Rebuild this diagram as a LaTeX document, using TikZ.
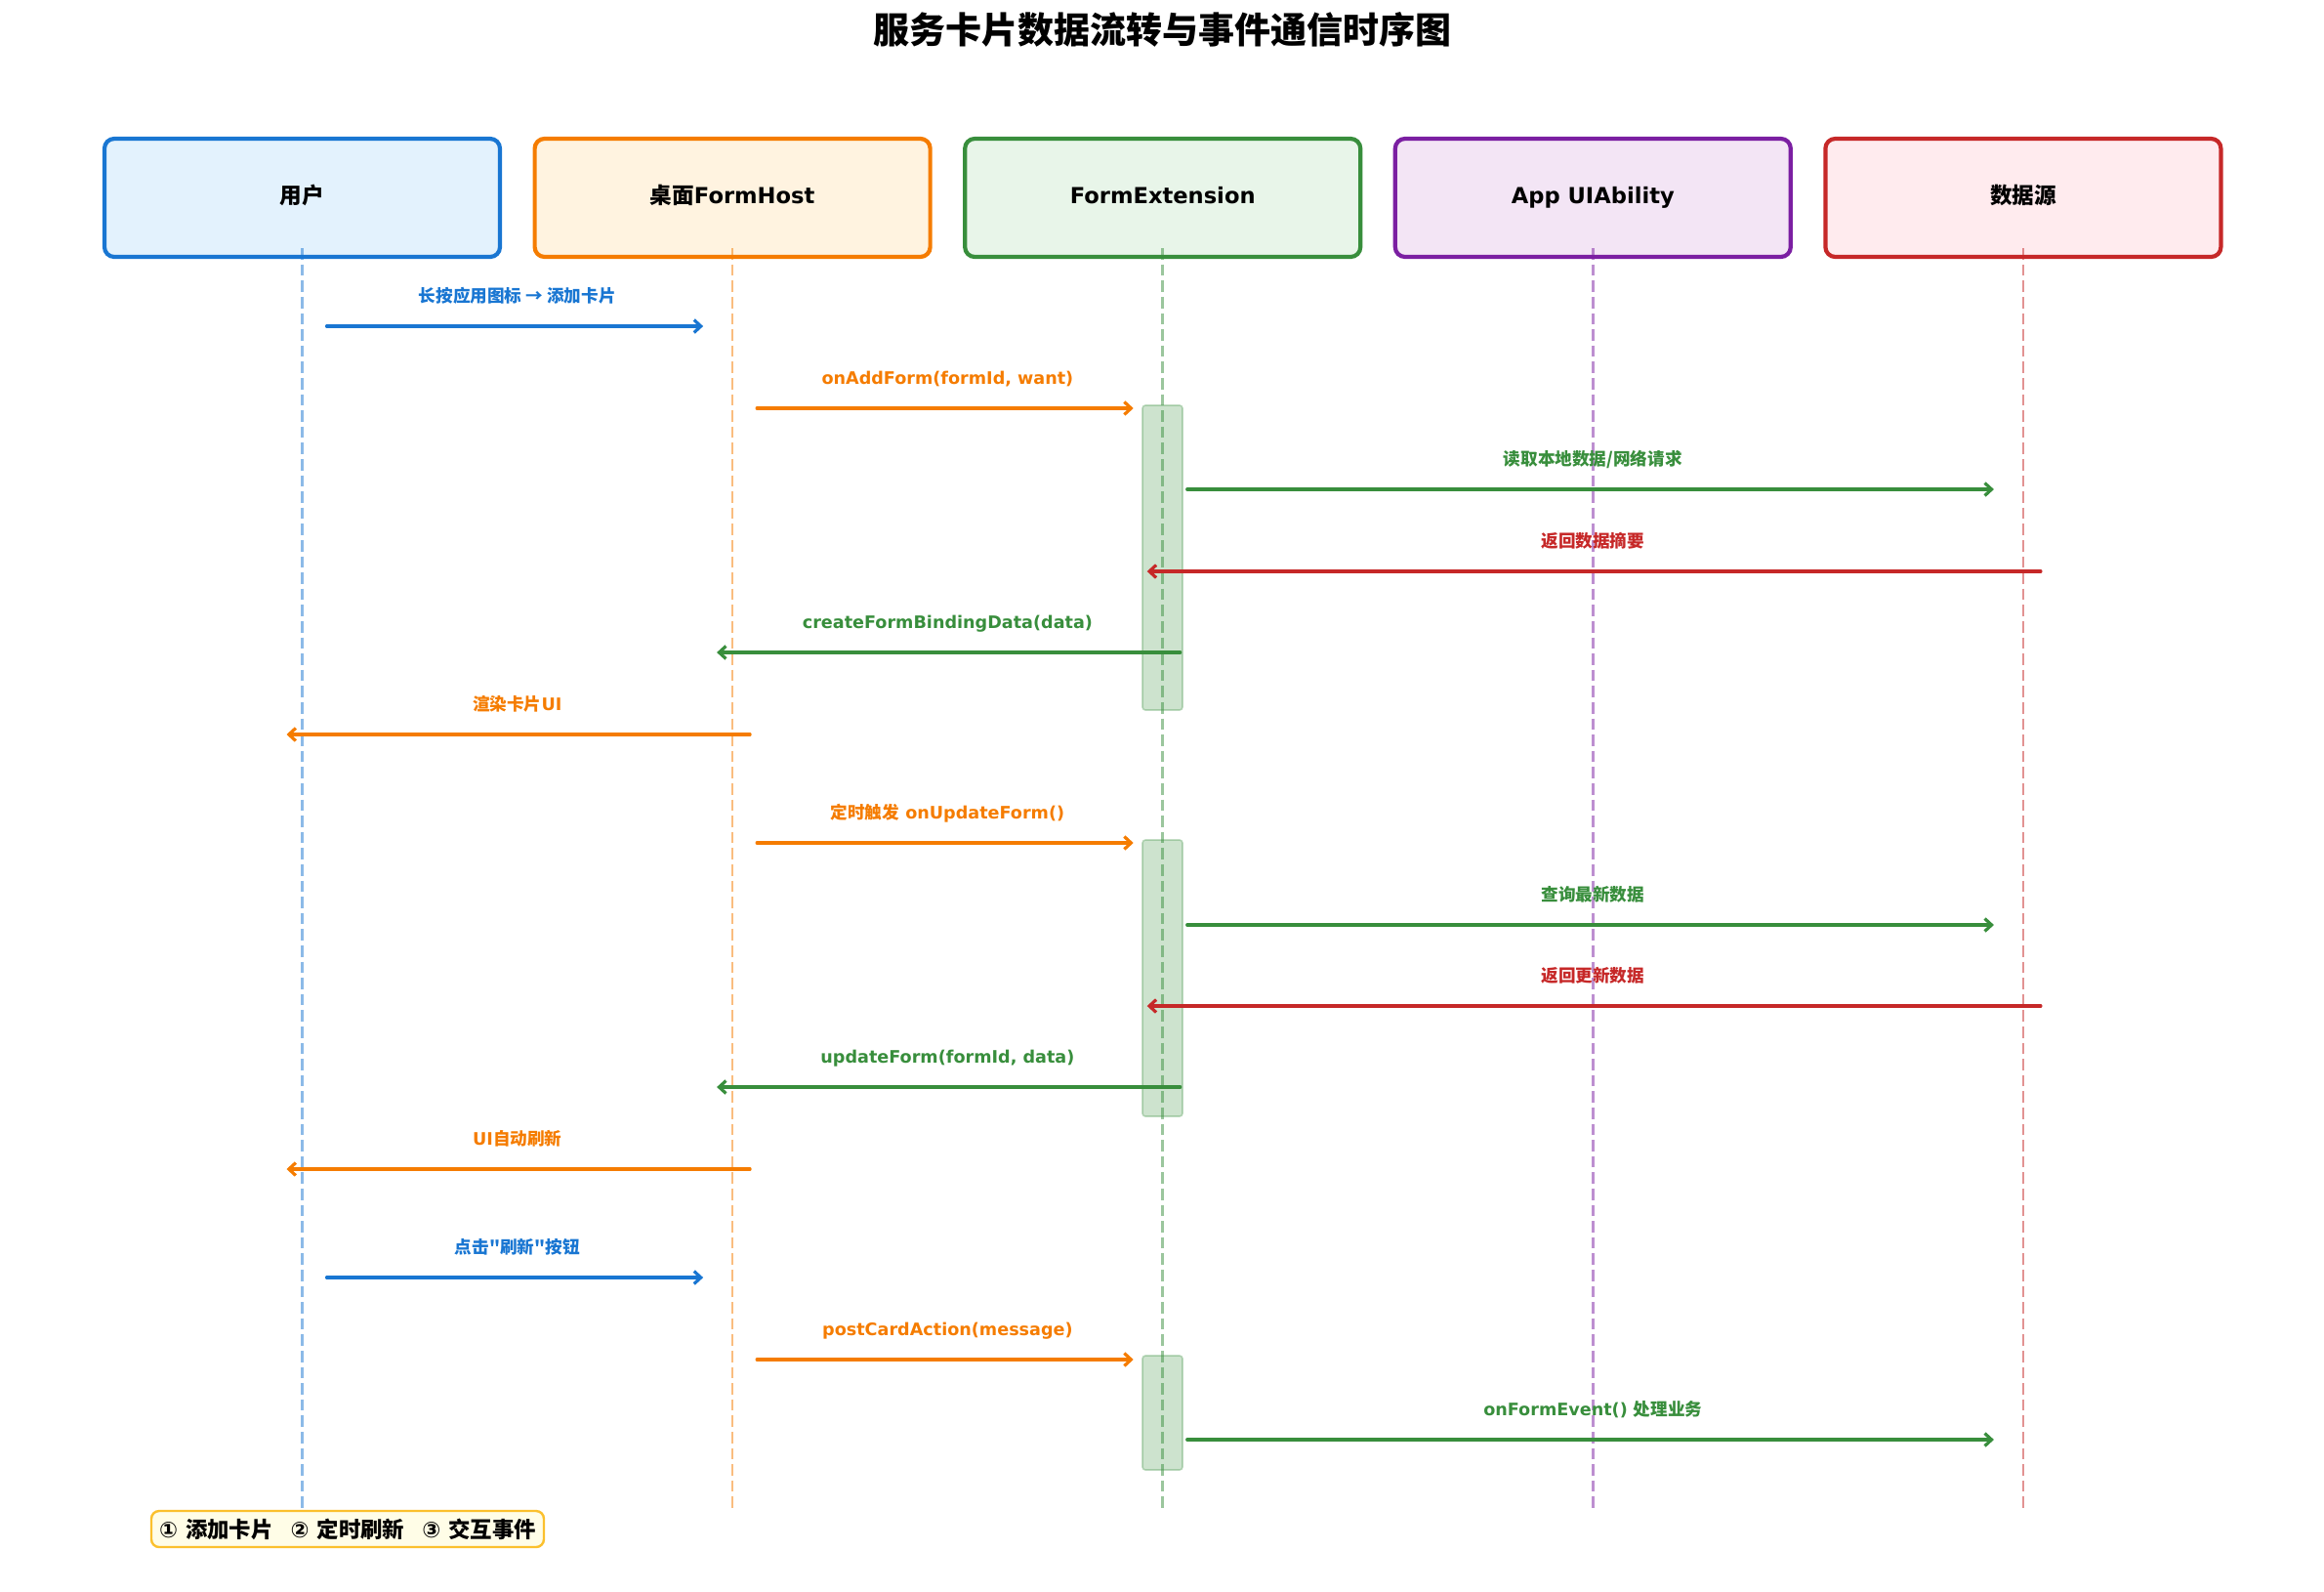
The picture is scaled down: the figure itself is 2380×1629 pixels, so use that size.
\documentclass[tikz,border=0pt]{standalone}
\usepackage{fontspec}
\setmainfont{DejaVu Sans}
\newfontfamily\cjk{Noto Sans CJK SC}[Ligatures=ResetAll]
\usetikzlibrary{arrows.meta,calc}
\definecolor{cblue}{HTML}{1976D2}\definecolor{cblueL}{HTML}{E3F2FD}
\definecolor{corange}{HTML}{F57C00}\definecolor{corangeL}{HTML}{FFF3E0}
\definecolor{cgreen}{HTML}{388E3C}\definecolor{cgreenL}{HTML}{E8F5E9}
\definecolor{cpurple}{HTML}{7B1FA2}\definecolor{cpurpleL}{HTML}{F3E5F5}
\definecolor{cred}{HTML}{C62828}\definecolor{credL}{HTML}{FFEBEE}
\definecolor{cyellow}{HTML}{FBC02D}\definecolor{cyellowL}{HTML}{FFFDE7}
\newcommand\zh[1]{{\cjk\bfseries #1}}
\newcommand\zhb[1]{{\cjk\bfseries #1}}
\tikzset{
  actor/.style={draw=#1, fill=#1L, line width=2.1pt, rounded corners=5pt,
    minimum width=202.5pt, minimum height=60.5pt, inner sep=0pt,
    text height=0.78em, text depth=0.22em,
    font=\fontsize{11.3}{13}\selectfont\bfseries},
  life/.style={draw=#1, draw opacity=0.5, line width=1.25pt, dash pattern=on 5.8pt off 2.5pt},
  act/.style={fill=cgreen, fill opacity=0.25, draw=cgreen, draw opacity=0.3, line width=0.8pt, rounded corners=1.5pt},
  msg/.style={draw=#1, line width=1.6pt, line cap=round, -{Straight Barb[length=3.5pt,width=6.5pt]}},
  lbl/.style={text=#1, inner sep=0pt, text height=0.78em, text depth=0.22em,
    font=\fontsize{8.8}{10}\selectfont\bfseries},
}
\newcommand\msgR[6]{%
  \coordinate (#1s) at (#3+25,#2);
  \coordinate (#1e) at (#4-30,#2);
  \draw[msg=#5] (#1s) -- (#1e);
  \node[lbl=#5] (#1l) at ({(#3+#4)/2},#2-30) {#6};}
\newcommand\msgL[6]{%
  \coordinate (#1s) at (#3+18,#2);
  \coordinate (#1e) at (#4-16,#2);
  \draw[msg=#5] (#1s) -- (#1e);
  \node[lbl=#5] (#1l) at ({(#3+#4)/2},#2-30) {#6};}
\def\xU{309.5}\def\xH{750.1}\def\xE{1190.7}\def\xA{1631.3}\def\xD{2071.9}
\begin{document}
\begin{tikzpicture}[x=0.5pt,y=-0.5pt]
\useasboundingbox (0,0) rectangle (2380,1629);
\node[font=\fontsize{18.5}{22}\selectfont] (title) at (1190,30) {\zhb{服务卡片数据流转与事件通信时序图}};
% actors
\node[actor=cblue] (user) at (\xU,202.5) {\zhb{用户}};
\node[actor=corange] (host) at (\xH,202.5) {\zhb{桌面}FormHost};
\node[actor=cgreen] (ext) at (\xE,202.5) {FormExtension};
\node[actor=cpurple] (app) at (\xA,202.5) {App UIAbility};
\node[actor=cred] (data) at (\xD,202.5) {\zhb{数据源}};
% lifelines
\foreach \n/\c in {user/cblue,host/corange,ext/cgreen,app/cpurple,data/cred}{
  \coordinate (\n T) at ($(\n.south)+(0,-11)$);
  \coordinate (\n B) at ($(\n.south)+(0,1281)$);
  \draw[life=\c] (\n T) -- (\n B);
}
% activations
\draw[act] (1170,415) rectangle (1211,727);
\draw[act] (1170,860) rectangle (1211,1143);
\draw[act] (1170,1388) rectangle (1211,1505);
% group 1
\msgR{m1}{334}{\xU}{\xH}{cblue}{\zh{长按应用图标 → 添加卡片}}
\msgR{m2}{418}{\xH}{\xE}{corange}{onAddForm(formId, want)}
\msgR{m3}{501}{\xE}{\xD}{cgreen}{\zh{读取本地数据/网络请求}}
\msgL{m4}{585}{\xD}{\xE}{cred}{\zh{返回数据摘要}}
\msgL{m5}{668}{\xE}{\xH}{cgreen}{createFormBindingData(data)}
\msgL{m6}{752}{\xH}{\xU}{corange}{\zh{渲染卡片}UI}
% group 2
\msgR{m7}{863}{\xH}{\xE}{corange}{\zh{定时触发} onUpdateForm()}
\msgR{m8}{947}{\xE}{\xD}{cgreen}{\zh{查询最新数据}}
\msgL{m9}{1030}{\xD}{\xE}{cred}{\zh{返回更新数据}}
\msgL{m10}{1113}{\xE}{\xH}{cgreen}{updateForm(formId, data)}
\msgL{m11}{1197}{\xH}{\xU}{corange}{UI\zh{自动刷新}}
% group 3
\msgR{m12}{1308}{\xU}{\xH}{cblue}{\zh{点击"刷新"按钮}}
\msgR{m13}{1392}{\xH}{\xE}{corange}{postCardAction(message)}
\msgR{m14}{1474}{\xE}{\xD}{cgreen}{onFormEvent() \zh{处理业务}}
% legend
\node[draw=cyellow, fill=cyellowL, line width=1.2pt, rounded corners=4pt,
  minimum width=201pt, minimum height=18.5pt, inner sep=0pt,
  font=\fontsize{11.2}{13}\selectfont\bfseries] (legend) at (356,1565.5)
  {①\hspace{4pt}\zhb{添加卡片}\hspace{9pt}②\hspace{4pt}\zhb{定时刷新}\hspace{9pt}③\hspace{4pt}\zhb{交互事件}};
\end{tikzpicture}
\end{document}
